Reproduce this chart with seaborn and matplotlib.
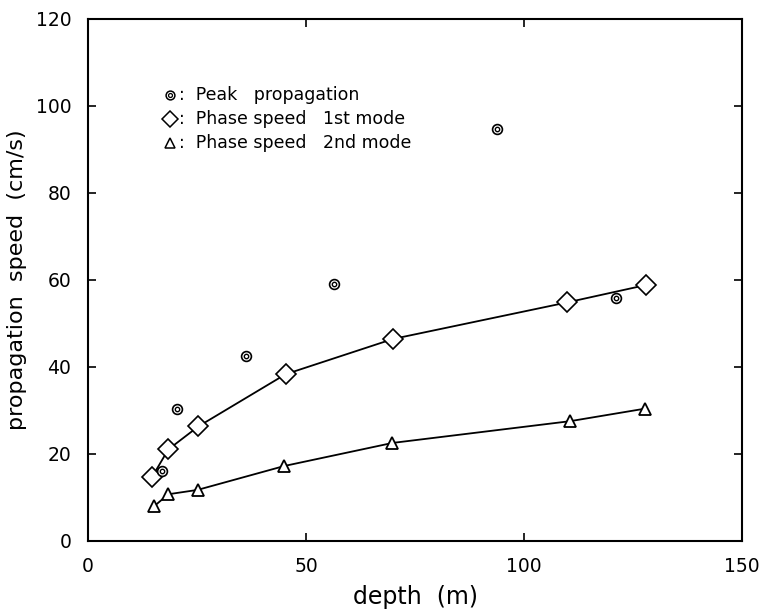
import numpy as np
import pandas as pd
import seaborn as sns
import matplotlib.pyplot as plt

# valores
peak_depth = [16.9, 20.5, 36.1, 56.3, 93.7, 121.1]
peak_speed = [16.0, 30.2, 42.4, 59.1, 94.6, 55.9]

mode1_depth = [14.7, 18.4, 25.3, 45.3, 69.9, 109.8, 127.9]
mode1_speed = [14.7, 21.0, 26.3, 38.3, 46.4, 54.8, 58.8]

mode2_depth = [15.1, 18.4, 25.1, 45.0, 69.8, 110.5, 127.8]
mode2_speed = [7.9, 10.7, 11.7, 17.2, 22.5, 27.5, 30.4]

legend_labels = [":  Peak   propagation", ":  Phase speed   1st mode", ":  Phase speed   2nd mode"]

sns.set_style("ticks")
plt.rcParams['font.family'] = ['DejaVu Sans']
plt.rcParams['text.color'] = 'black'
plt.rcParams['axes.labelcolor'] = 'black'
plt.rcParams['xtick.color'] = 'black'
plt.rcParams['ytick.color'] = 'black'
plt.rcParams['axes.edgecolor'] = 'black'

fig = plt.figure(figsize=(7.59, 6.09), dpi=100)
ax = fig.add_axes([0.116, 0.112, 0.862, 0.857])

df1 = pd.DataFrame({"depth": mode1_depth, "speed": mode1_speed})
df2 = pd.DataFrame({"depth": mode2_depth, "speed": mode2_speed})
dfp = pd.DataFrame({"depth": peak_depth, "speed": peak_speed})

sns.lineplot(data=df1, x="depth", y="speed", ax=ax, color="black", lw=1.3,
             marker="D", markersize=10, markerfacecolor="white",
             markeredgecolor="black", markeredgewidth=1.2)
sns.lineplot(data=df2, x="depth", y="speed", ax=ax, color="black", lw=1.3,
             marker="^", markersize=9, markerfacecolor="white",
             markeredgecolor="black", markeredgewidth=1.3)
# circulo doble
sns.scatterplot(data=dfp, x="depth", y="speed", ax=ax, s=50, marker="o",
                facecolor="white", edgecolor="black", linewidth=1.2, zorder=5)
sns.scatterplot(data=dfp, x="depth", y="speed", ax=ax, s=10, marker="o",
                facecolor="white", edgecolor="black", linewidth=1.0, zorder=6)

ax.set_xlim(0, 150)
ax.set_ylim(0, 120)
ax.set_xticks([0, 50, 100, 150])
ax.set_yticks([0, 20, 40, 60, 80, 100, 120])
ax.tick_params(direction="in", length=6, width=1.2, labelsize=13.5, top=True, right=True)
ax.tick_params(axis="x", pad=12)
ax.tick_params(axis="y", pad=12)
for s in ax.spines.values():
    s.set_linewidth(1.5)
ax.set_xlabel("depth  (m)", fontsize=17, labelpad=6)
ax.set_ylabel("propagation  speed  (cm/s)", fontsize=16, labelpad=6)

# leyenda hecha a mano
leg_y = [102.5, 97.0, 91.5]
ax.scatter([18.9], [leg_y[0]], s=40, marker="o", facecolor="white", edgecolor="black", linewidth=1.1, zorder=5)
ax.scatter([18.9], [leg_y[0]], s=8, marker="o", facecolor="white", edgecolor="black", linewidth=0.9, zorder=6)
ax.plot([18.9], [leg_y[1]], marker="D", markersize=8, markerfacecolor="white", markeredgecolor="black", markeredgewidth=1.1)
ax.plot([18.9], [leg_y[2]], marker="^", markersize=7, markerfacecolor="white", markeredgecolor="black", markeredgewidth=1.1)
for yy, lab in zip(leg_y, legend_labels):
    ax.text(20.9, yy, lab, fontsize=12.5, va="center", ha="left")

plt.savefig("out.png", dpi=100)
